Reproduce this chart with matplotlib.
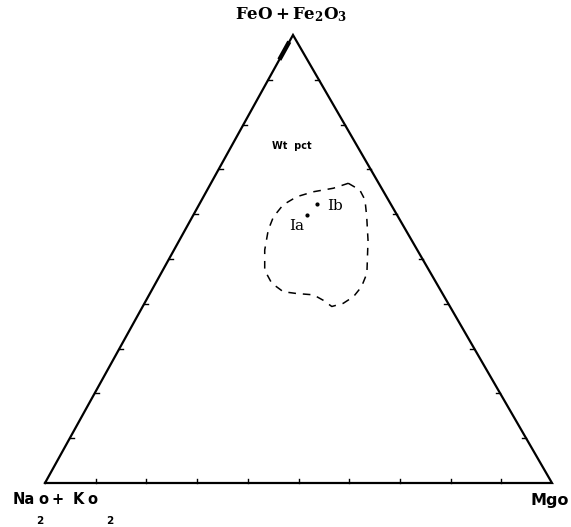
import numpy as np
import matplotlib.pyplot as plt

# AFM diagram: FeO+Fe2O3 (top), Na2O+K2O (left), MgO (right), wt %
# outline of the field, percent
field_F = [66.9, 65.4, 63.2, 59.4, 54.2, 46.8, 43.8, 41.6, 40.1, 39.4, 40.8, 42.0,
           42.3, 42.7, 44.6, 47.5, 52.0, 56.5, 59.4, 62.1, 63.9, 65.0, 65.8]
field_M = [27.1, 30.1, 32.2, 34.4, 37.2, 40.6, 41.0, 40.5, 39.2, 37.3, 34.9, 32.4,
           28.9, 26.1, 22.9, 20.1, 17.9, 16.4, 16.0, 16.6, 18.4, 21.1, 24.7]

# samples Ia and Ib
samp_names = ['Ia', 'Ib']
samp_F = [59.8, 62.3]
samp_M = [22.5, 23.2]

tick_steps = np.arange(10, 100, 10)

# pixel positions of the corners (A = alkalis, M = MgO, F = iron oxides)
A_px = np.array([45.0, 483.0])
M_px = np.array([552.0, 483.0])
F_px = np.array([293.0, 35.0])


def to_xy(F, M):
    F = np.asarray(F, dtype=float) / 100.0
    M = np.asarray(M, dtype=float) / 100.0
    A = 1.0 - F - M
    x = A * A_px[0] + M * M_px[0] + F * F_px[0]
    y = A * A_px[1] + M * M_px[1] + F * F_px[1]
    return x, y


fig = plt.figure(figsize=(5.71, 5.27), dpi=100)
ax = fig.add_axes([0, 0, 1, 1])
ax.set_xlim(0, 571)
ax.set_ylim(527, 0)
ax.axis('off')

# triangle
tx, ty = to_xy([0, 0, 100, 0], [0, 100, 0, 0])
ax.plot(tx, ty, color='black', lw=1.6, solid_joinstyle='miter')

# short heavy mark near the apex on the left side
hx, hy = to_xy([94.5, 98.5], [0, 0])
ax.plot(hx, hy, color='black', lw=3.2, solid_capstyle='butt')

# ticks every 10 %
tl = 4
for t in tick_steps:
    # bottom edge, pointing up
    x, y = to_xy(0, t)
    ax.plot([x, x], [y, y - tl], color='black', lw=1.0)
    # left edge, pointing right
    x, y = to_xy(t, 0)
    ax.plot([x, x + tl], [y, y], color='black', lw=1.0)
    # right edge, pointing left
    x, y = to_xy(t, 100 - t)
    ax.plot([x, x - tl], [y, y], color='black', lw=1.0)

# dashed field
fx, fy = to_xy(field_F + field_F[:1], field_M + field_M[:1])
ax.plot(fx, fy, color='black', lw=1.1, linestyle=(0, (5, 4.5)))

# sample points
sx, sy = to_xy(samp_F, samp_M)
ax.plot(sx, sy, 'o', color='black', ms=2)
ax.text(sx[0] - 11, sy[0] + 11, samp_names[0], fontsize=11, ha='center', va='center',
        family='DejaVu Serif')
ax.text(sx[1] + 18, sy[1] + 2, samp_names[1], fontsize=11, ha='center', va='center',
        family='DejaVu Serif')

ax.text(292, 146, 'Wt  pct', fontsize=7, fontweight='bold', ha='center', va='center')

# corner labels
ax.text(291, 15, r'$\mathbf{FeO+Fe_2O_3}$', fontsize=12, ha='center', va='center',
        math_fontfamily='dejavuserif')
ax.text(13, 500, 'Na', fontsize=10.5, fontweight='bold', ha='left', va='center')
ax.text(43, 500, 'o', fontsize=10.5, fontweight='bold', ha='center', va='center')
ax.text(58, 500, '+', fontsize=10.5, fontweight='bold', ha='center', va='center')
ax.text(78, 500, 'K', fontsize=10.5, fontweight='bold', ha='center', va='center')
ax.text(92, 500, 'o', fontsize=10.5, fontweight='bold', ha='center', va='center')
ax.text(40, 521, '2', fontsize=7.5, fontweight='bold', ha='center', va='center')
ax.text(110, 521, '2', fontsize=7.5, fontweight='bold', ha='center', va='center')
ax.text(550, 500, 'Mgo', fontsize=11.5, fontweight='bold', ha='center', va='center')

fig.savefig('out.png', dpi=100)
